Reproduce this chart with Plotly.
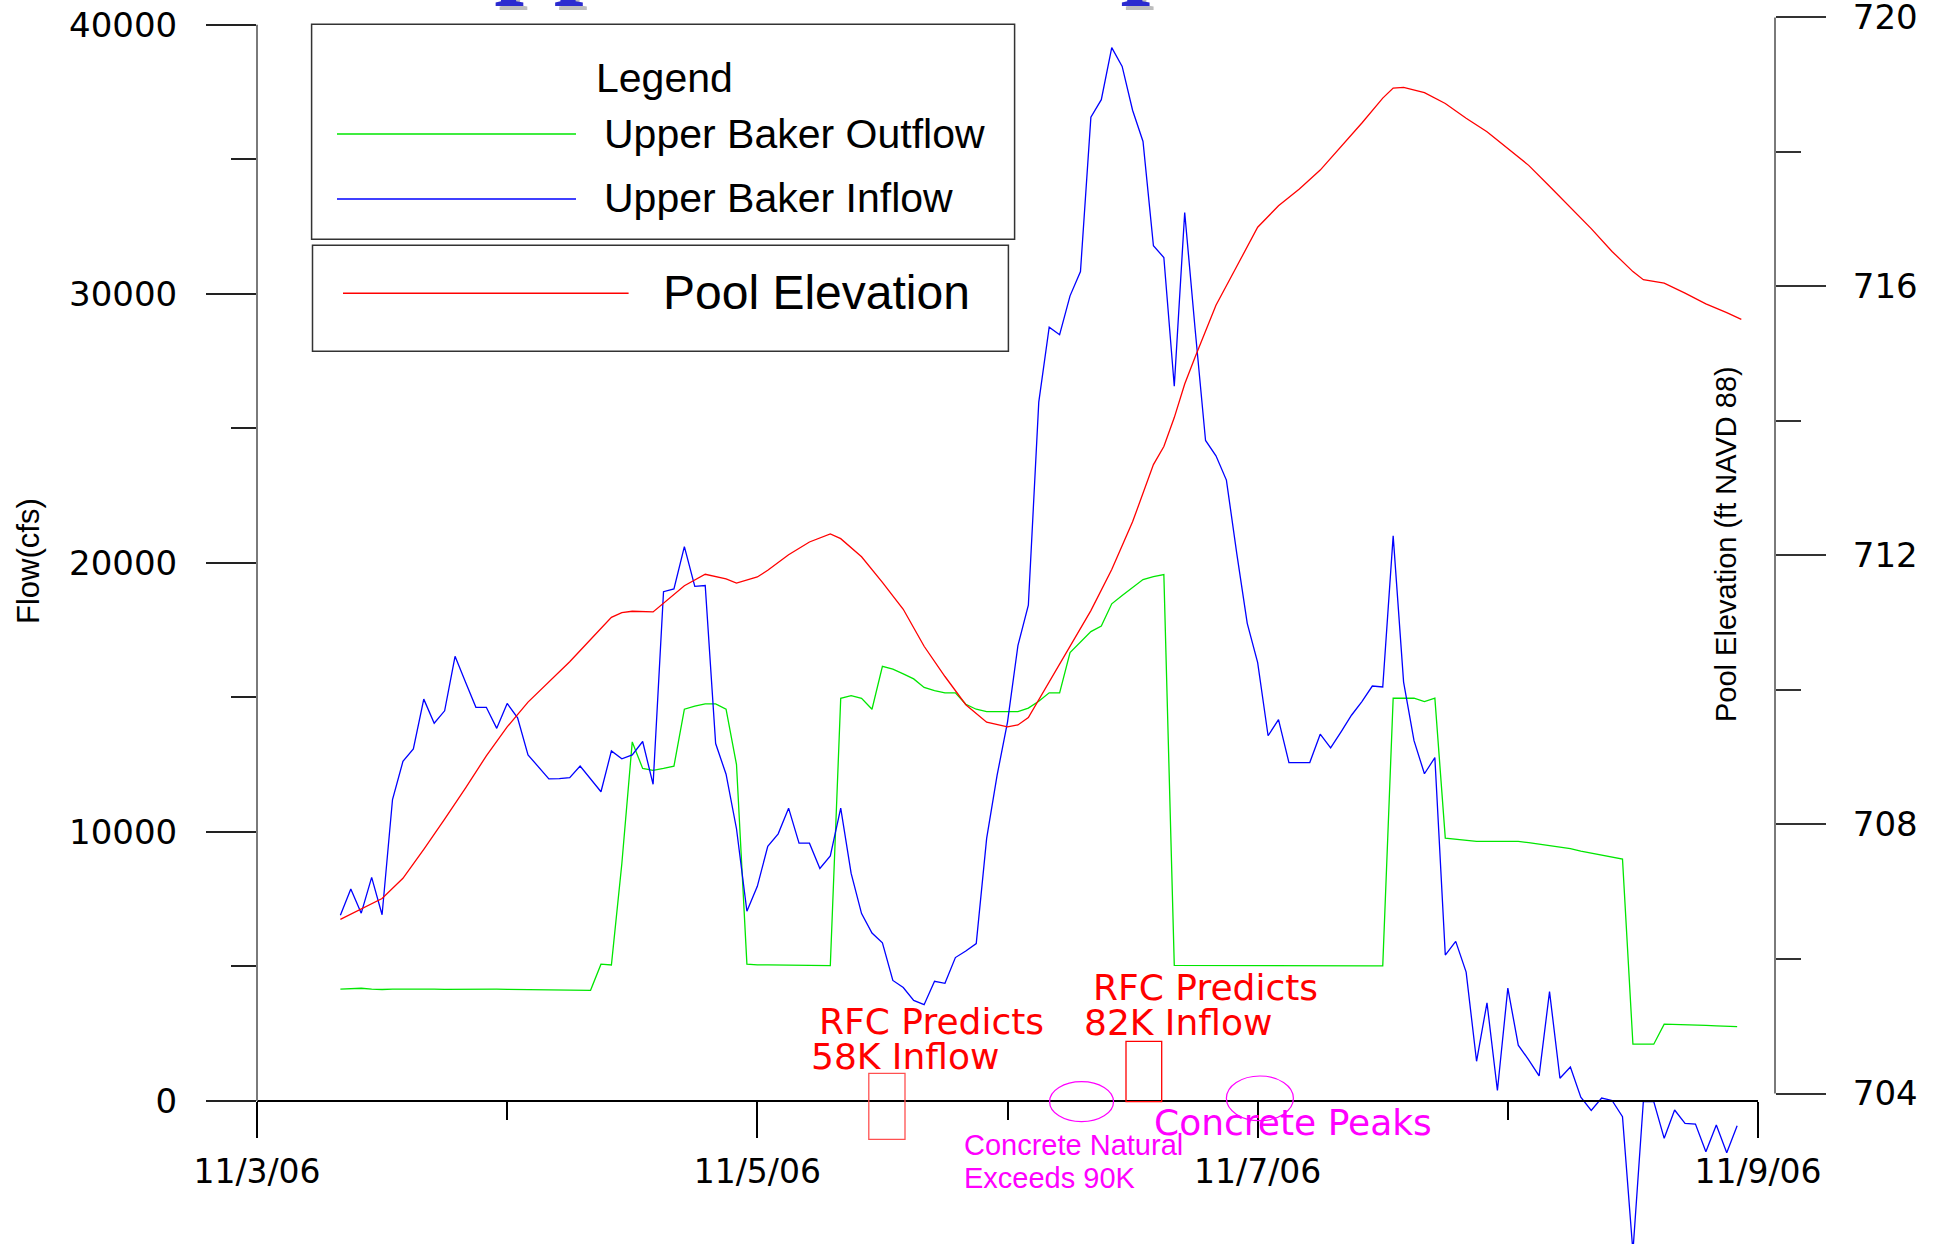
import plotly.graph_objects as go
import pandas as pd

# ---------------- data ----------------
FLOW_START = "2006-11-03 08:00"          # hourly series start

inflow_cfs = [
    6907, 7877, 6981, 8312, 6922, 11204, 12621, 13086, 14937, 14041,
    14502, 16528, 15572, 14632, 14632, 13851, 14777, 14242, 12866, 12420,
    11970, 11985, 12015, 12450, 11970, 11494, 13011, 12721, 12866, 13361,
    11770, 18929, 19030, 20606, 19130, 19160, 13286, 12145, 10119, 7052,
    7978, 9468, 9929, 10885, 9584, 9584, 8643, 9108, 10885, 8457,
    6966, 6242, 5881, 4480, 4219, 3740, 3580, 4450, 4375, 5331,
    5576, 5851, 9758, 12100, 14086, 16926, 18428, 25974, 28762, 28480,
    29926, 30829, 36569, 37216, 39152, 38454, 36825, 35662, 31788, 31350,
    26565, 33026, 28684, 24550, 23981, 23078, 20338, 17755, 16294, 13576,
    14175, 12580, 12580, 12580, 13632, 13123, 13721, 14338, 14844, 15424,
    15387, 21004, 15569, 13394, 12164, 12762, 5424, 5933, 4792, 1476,
    3651, 390, 4193, 2074, 1532, 933, 4067, 844, 1260, 140,
    -350, 110, 20, -580, -5600, -20, -20, -1387, -335, -830,
    -855, -1885, -892, -1921, -918,
]

outflow_cfs = [
    4160, 4175, 4190, 4160, 4145, 4160, 4165, 4160, 4160, 4155,
    4150, 4155, 4160, 4150, 4150, 4155, 4150, 4145, 4150, 4145,
    4120, 4115, 4120, 4115, 4115, 5086, 5056, 8818, 13346, 12361,
    12290, 12361, 12446, 14561, 14677, 14762, 14762, 14561, 12506, 5086,
    5056, 5056, 5056, 5050, 5030, 5040, 5056, 5030, 14966, 15067,
    14966, 14561, 16153, 16048, 15877, 15688, 15372, 15253, 15167, 15167,
    14747, 14561, 14472, 14472, 14472, 14472, 14602, 14859, 15171, 15171,
    16669, 17056, 17446, 17650, 18480, 18788, 19071, 19383, 19487, 19565,
    5041, 5040, 5035, 5030, 5030, 5025, 5020, 5020, 5010, 5007,
    5007, 5007, 5010, 5010, 5007, 5007, 5010, 5010, 5015, 5020,
    5026, 14970, 14970, 14970, 14844, 14970, 9773, 9736, 9700, 9650,
    9650, 9650, 9650, 9650, 9600, 9550, 9504, 9450, 9380, 9285,
    9210, 9140, 9060, 8993, 2111, 2111, 2111, 2855, 2850, 2840,
    2830, 2810, 2790, 2775, 2762,
]

pool_hours = [8, 10, 12, 14, 16, 18, 20, 22, 24, 26, 28, 30, 32, 34, 35, 36, 38,
              40, 41, 43, 45, 46, 48, 49, 51, 53, 55, 56, 58, 60, 62, 64, 66,
              68, 70, 72, 73, 74, 76, 78, 80, 82, 84, 86, 87, 88, 89, 90, 92,
              94, 96, 98, 100, 102, 104, 106, 108, 109, 110, 112, 114, 116, 118,
              120, 122, 124, 126, 128, 130, 132, 133, 135, 137, 139, 141, 142.4]
pool_elev_ft = [706.59, 706.75, 706.90, 707.20, 707.63, 708.08, 708.54, 709.02,
                709.45, 709.82, 710.12, 710.42, 710.75, 711.08, 711.15, 711.17,
                711.16, 711.42, 711.55, 711.72, 711.65, 711.59, 711.68, 711.78,
                712.01, 712.20, 712.32, 712.25, 711.98, 711.60, 711.20, 710.65,
                710.20, 709.78, 709.52, 709.45, 709.48, 709.59, 710.12, 710.65,
                711.18, 711.79, 712.50, 713.35, 713.62, 714.05, 714.55, 714.95,
                715.72, 716.30, 716.88, 717.20, 717.45, 717.73, 718.08, 718.43,
                718.80, 718.95, 718.96, 718.88, 718.72, 718.50, 718.30, 718.05,
                717.80, 717.49, 717.17, 716.86, 716.52, 716.22, 716.10, 716.05,
                715.90, 715.74, 715.61, 715.51]

x_tick_dates = ["2006-11-03", "2006-11-05", "2006-11-07", "2006-11-09"]
x_tick_labels = ["11/3/06", "11/5/06", "11/7/06", "11/9/06"]
x_minor_dates = ["2006-11-04", "2006-11-06", "2006-11-08"]
flow_ticks = [0, 10000, 20000, 30000, 40000]
flow_minor = [5000, 15000, 25000, 35000]
elev_ticks = [704, 708, 712, 716, 720]
elev_minor = [706, 710, 714, 718]

assert len(inflow_cfs) == len(outflow_cfs) == 135
assert len(pool_hours) == len(pool_elev_ft)

flow_times = pd.date_range(FLOW_START, periods=len(inflow_cfs), freq="h")
pool_times = [pd.Timestamp("2006-11-03") + pd.Timedelta(hours=h) for h in pool_hours]

# ---------------- layout geometry ----------------
FIG_W, FIG_H = 1944, 1244
M_L, M_R, M_T, M_B = 257, 169, 17, 0
PLOT_W = FIG_W - M_L - M_R
PLOT_H = FIG_H - M_T - M_B


def px(x):
    return (x - M_L) / PLOT_W


def py(y):
    return (FIG_H - M_B - y) / PLOT_H


Y0_PIX, Y40K_PIX = 1101.0, 24.8
k1 = (Y0_PIX - Y40K_PIX) / 40000.0
flow_range = [-(FIG_H - M_B - Y0_PIX) / k1, 40000 + (Y40K_PIX - M_T) / k1]
E704_PIX, E720_PIX = 1093.5, 17.4
k2 = (E704_PIX - E720_PIX) / 16.0
elev_range = [704 - (FIG_H - M_B - E704_PIX) / k2, 720 + (E720_PIX - M_T) / k2]

GREEN = "#00e600"
BLUE = "#0000ff"
RED = "#ff0000"
MAG = "#ff00ff"
WIDE = "DejaVu Sans"
ARIAL = "Liberation Sans, Arial"

fig = go.Figure()
fig.add_trace(go.Scatter(x=flow_times, y=outflow_cfs, mode="lines",
                         line=dict(color=GREEN, width=1.3), name="Upper Baker Outflow"))
fig.add_trace(go.Scatter(x=flow_times, y=inflow_cfs, mode="lines",
                         line=dict(color=BLUE, width=1.3), name="Upper Baker Inflow"))
fig.add_trace(go.Scatter(x=pool_times, y=pool_elev_ft, mode="lines", yaxis="y2",
                         line=dict(color=RED, width=1.3), name="Pool Elevation"))

fig.update_layout(
    width=FIG_W, height=FIG_H,
    margin=dict(l=M_L, r=M_R, t=M_T, b=M_B, pad=0, autoexpand=False),
    paper_bgcolor="white", plot_bgcolor="white",
    showlegend=False,
    font=dict(family=ARIAL, color="black"),
    xaxis=dict(
        type="date", range=["2006-11-03", "2006-11-09"],
        domain=[0, px(1758)], anchor="free", position=py(Y0_PIX),
        showgrid=False, zeroline=False, showline=True, linecolor="black", linewidth=1.5,
        tickmode="array", tickvals=x_tick_dates, ticktext=x_tick_labels,
        ticks="outside", ticklen=36, tickwidth=1.5, tickcolor="black",
        tickfont=dict(family=WIDE, size=33, color="black"),
        ticklabelstandoff=6, ticklabeloverflow="allow",
        minor=dict(tickmode="array", tickvals=x_minor_dates, ticks="outside",
                   ticklen=18, tickwidth=1.5, tickcolor="black", showgrid=False),
        automargin=False, fixedrange=True,
    ),
    yaxis=dict(
        range=flow_range, domain=[0, 1], anchor="x",
        showgrid=False, zeroline=False, showline=False,
        tickmode="array", tickvals=flow_ticks, ticktext=[str(v) for v in flow_ticks],
        ticks="outside", ticklen=50, tickwidth=1.5, tickcolor="#222",
        tickfont=dict(family=WIDE, size=34, color="black"),
        ticklabelstandoff=22, ticklabeloverflow="allow",
        minor=dict(tickmode="array", tickvals=flow_minor, ticks="outside",
                   ticklen=25, tickwidth=1.5, tickcolor="#222", showgrid=False),
        automargin=False,
    ),
    yaxis2=dict(
        range=elev_range, overlaying="y", side="right", anchor="free", position=1.0,
        showgrid=False, zeroline=False, showline=False,
        tickmode="array", tickvals=elev_ticks, ticktext=[str(v) for v in elev_ticks],
        ticks="outside", ticklen=50, tickwidth=1.5, tickcolor="#333",
        tickfont=dict(family=WIDE, size=34, color="black"),
        ticklabelstandoff=20, ticklabeloverflow="allow",
        minor=dict(tickmode="array", tickvals=elev_minor, ticks="outside",
                   ticklen=25, tickwidth=1.5, tickcolor="#333", showgrid=False),
        automargin=False,
    ),
)

shapes = []
# axis spines limited to their value ranges
shapes.append(dict(type="line", xref="paper", yref="y", x0=0, x1=0, y0=0, y1=40000,
                   line=dict(color="#7a7a7a", width=2)))
shapes.append(dict(type="line", xref="paper", yref="y2", x0=1, x1=1, y0=704, y1=720,
                   line=dict(color="#7a7a7a", width=2)))
# legend boxes
shapes.append(dict(type="rect", xref="paper", yref="paper",
                   x0=px(311.6), x1=px(1014.6), y0=py(239.3), y1=py(24.3),
                   line=dict(color="#333", width=1.5)))
shapes.append(dict(type="rect", xref="paper", yref="paper",
                   x0=px(312.5), x1=px(1008.4), y0=py(351.3), y1=py(245.3),
                   line=dict(color="#333", width=1.5)))
# legend sample lines
for (xa, xb, yy, col) in [(337, 576, 134, GREEN), (337, 576, 199, BLUE), (343, 628.6, 293.3, RED)]:
    shapes.append(dict(type="line", xref="paper", yref="paper",
                       x0=px(xa), x1=px(xb), y0=py(yy), y1=py(yy),
                       line=dict(color=col, width=1.5)))
# RFC boxes
shapes.append(dict(type="rect", xref="paper", yref="paper",
                   x0=px(868.8), x1=px(905), y0=py(1139.3), y1=py(1073.3),
                   line=dict(color="#ff5050", width=1.3)))
shapes.append(dict(type="rect", xref="paper", yref="paper",
                   x0=px(1126), x1=px(1161.7), y0=py(1101.7), y1=py(1041.3),
                   line=dict(color=RED, width=1.3)))
# concrete ellipses
shapes.append(dict(type="circle", xref="paper", yref="paper",
                   x0=px(1049.6), x1=px(1113.5), y0=py(1121.7), y1=py(1081.7),
                   line=dict(color=MAG, width=1.2)))
shapes.append(dict(type="circle", xref="paper", yref="paper",
                   x0=px(1226.4), x1=px(1293.4), y0=py(1120.7), y1=py(1076),
                   line=dict(color=MAG, width=1.2)))
fig.update_layout(shapes=shapes)


def ann(text, x, y, size, color="black", family=ARIAL, xanchor="left", yanchor="middle",
        angle=0, weight="normal"):
    fig.add_annotation(text=text, xref="paper", yref="paper", x=px(x), y=py(y),
                       xanchor=xanchor, yanchor=yanchor, showarrow=False, textangle=angle,
                       font=dict(family=family, size=size, color=color, weight=weight))


# cut-off title at the very top of the page (only the descenders are visible)
ann("Upper Baker Operations", 419.3, 12.3, 107, color="#bdbdbd",
    family="Liberation Serif", yanchor="bottom", weight="bold")
ann("Upper Baker Operations", 415.3, 8.3, 107, color="#2b2bd0",
    family="Liberation Serif", yanchor="bottom", weight="bold")

# legend text
ann("Legend", 594, 78, 41)
ann("Upper Baker Outflow", 602.3, 133.7, 41)
ann("Upper Baker Inflow", 602.3, 198, 41)
ann("Pool Elevation", 661.1, 292.9, 48)

# axis titles
ann("Flow(cfs)", 28, 561, 31, xanchor="center", angle=-90)
ann("Pool Elevation (ft NAVD 88)", 1726, 544, 29, xanchor="center", angle=-90)

# event annotations
ann("RFC Predicts", 931.8, 1021.7, 36, color=RED, family=WIDE, xanchor="center")
ann("58K Inflow", 905, 1056.7, 36, color=RED, family=WIDE, xanchor="center")
ann("RFC Predicts", 1205.3, 987.4, 36, color=RED, family=WIDE, xanchor="center")
ann("82K Inflow", 1178, 1022.7, 36, color=RED, family=WIDE, xanchor="center")
ann("Concrete Natural", 962, 1144.8, 29, color=MAG)
ann("Exceeds 90K", 962, 1178.1, 29, color=MAG)
ann("Concrete Peaks", 1292.9, 1122.4, 36, color=MAG, family=WIDE, xanchor="center")

fig.write_html("out.html")
